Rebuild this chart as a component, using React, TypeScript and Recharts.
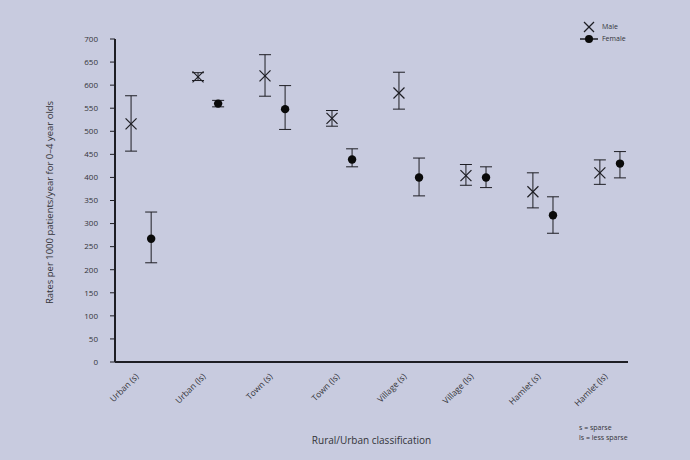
import React from "react";
import { ScatterChart, Scatter, XAxis, YAxis, ErrorBar } from "recharts";

const categories = ["Urban (s)", "Urban (ls)", "Town (s)", "Town (ls)", "Village (s)", "Village (ls)", "Hamlet (s)", "Hamlet (ls)"];
const maleValues = [516, 618, 620, 528, 583, 404, 369, 410];
const maleLow = [457, 610, 576, 511, 548, 383, 334, 385];
const maleHigh = [577, 627, 666, 545, 628, 428, 410, 438];
const femaleValues = [267, 560, 548, 439, 400, 400, 318, 430];
const femaleLow = [215, 553, 504, 423, 360, 378, 279, 399];
const femaleHigh = [325, 567, 599, 462, 442, 423, 358, 456];
const yTicks = [0, 50, 100, 150, 200, 250, 300, 350, 400, 450, 500, 550, 600, 650, 700];

const OFFSET = 0.15;
const maleData = categories.map((c, i) => ({
  x: i + 1 - OFFSET,
  y: maleValues[i],
  err: [maleValues[i] - maleLow[i], maleHigh[i] - maleValues[i]],
}));
const femaleData = categories.map((c, i) => ({
  x: i + 1 + OFFSET,
  y: femaleValues[i],
  err: [femaleValues[i] - femaleLow[i], femaleHigh[i] - femaleValues[i]],
}));

const INK = "#1e1e24";
const TEXT = "#333338";
const FONT = "'Open Sans', 'Noto Sans', sans-serif";

const CrossShape = (props: any) => {
  const { cx, cy } = props;
  const s = 5.5;
  return (
    <g>
      <line x1={cx - s} y1={cy - s} x2={cx + s} y2={cy + s} stroke={INK} strokeWidth={1.2} />
      <line x1={cx - s} y1={cy + s} x2={cx + s} y2={cy - s} stroke={INK} strokeWidth={1.2} />
    </g>
  );
};

const DotShape = (props: any) => {
  const { cx, cy } = props;
  return <circle cx={cx} cy={cy} r={4.2} fill="#0a0a0a" />;
};

const XTick = (props: any) => {
  const { x, y, payload } = props;
  const label = categories[Math.round(payload.value) - 1] ?? "";
  return (
    <text
      x={x - 2}
      y={y + 7}
      textAnchor="end"
      transform={`rotate(-45, ${x - 2}, ${y + 7})`}
      fontSize={8.5}
      fill={TEXT}
      fontFamily={FONT}
    >
      {label}
    </text>
  );
};

export default function App() {
  return (
    <div
      style={{
        position: "absolute",
        left: 0,
        top: 0,
        width: 690,
        height: 460,
        background: "#c8cbdf",
        overflow: "hidden",
      }}
    >
      <ScatterChart width={690} height={460} margin={{ top: 39, right: 62, bottom: 0, left: 55 }}>
        <XAxis
          type="number"
          dataKey="x"
          domain={[0.61, 8.27]}
          ticks={[1, 2, 3, 4, 5, 6, 7, 8]}
          tick={<XTick />}
          tickLine={false}
          axisLine={{ stroke: INK, strokeWidth: 2 }}
          height={98}
          allowDataOverflow
          label={{
            value: "Rural/Urban classification",
            position: "insideBottom",
            offset: 16,
            fontSize: 10,
            fill: TEXT,
            fontFamily: FONT,
          }}
        />
        <YAxis
          type="number"
          dataKey="y"
          domain={[0, 700]}
          ticks={yTicks}
          width={60}
          tickSize={5}
          tickMargin={12}
          tick={{ fontSize: 8, fill: TEXT, fontFamily: FONT }}
          tickLine={{ stroke: INK }}
          axisLine={{ stroke: INK, strokeWidth: 2 }}
          label={{
            value: "Rates per 1000 patients/year for 0–4 year olds",
            angle: -90,
            position: "insideLeft",
            offset: -5,
            dy: 2,
            fontSize: 9.5,
            fill: TEXT,
            fontFamily: FONT,
            style: { textAnchor: "middle" },
          }}
        />
        <Scatter name="Male" data={maleData} shape={<CrossShape />} isAnimationActive={false}>
          <ErrorBar dataKey="err" direction="y" width={6} stroke={INK} strokeWidth={1} />
        </Scatter>
        <Scatter name="Female" data={femaleData} shape={<DotShape />} isAnimationActive={false}>
          <ErrorBar dataKey="err" direction="y" width={6} stroke={INK} strokeWidth={1} />
        </Scatter>
      </ScatterChart>
      <div
        style={{
          position: "absolute",
          left: 580,
          top: 21,
          fontFamily: FONT,
          fontSize: 7,
          color: TEXT,
          lineHeight: "12px",
        }}
      >
        <div style={{ display: "flex", alignItems: "center" }}>
          <svg width={19} height={12}>
            <line x1={4} y1={1} x2={14} y2={11} stroke={INK} strokeWidth={1.2} />
            <line x1={4} y1={11} x2={14} y2={1} stroke={INK} strokeWidth={1.2} />
          </svg>
          <span style={{ marginLeft: 3 }}>Male</span>
        </div>
        <div style={{ display: "flex", alignItems: "center" }}>
          <svg width={19} height={12}>
            <line x1={0} y1={6} x2={18} y2={6} stroke={INK} strokeWidth={1.5} />
            <circle cx={9} cy={6} r={4} fill="#0a0a0a" />
          </svg>
          <span style={{ marginLeft: 3 }}>Female</span>
        </div>
      </div>
      <div
        style={{
          position: "absolute",
          left: 579,
          top: 423,
          fontFamily: FONT,
          fontSize: 7,
          color: TEXT,
          lineHeight: "10px",
        }}
      >
        <div>s = sparse</div>
        <div>ls = less sparse</div>
      </div>
    </div>
  );
}
